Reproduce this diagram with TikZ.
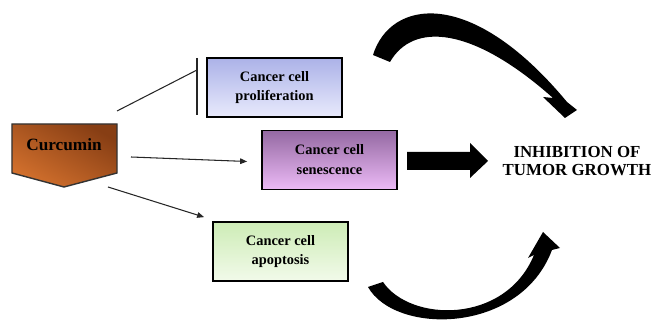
\documentclass[tikz,border=0pt]{standalone}
\usepackage{fontspec}
\setmainfont{Liberation Serif}
\usepackage{tikz}
\usetikzlibrary{arrows.meta,backgrounds}
\newcommand{\boxw}{2.7cm}
\newcommand{\boxh}{1.18cm}
\newcommand{\thin}{0.6pt}
\definecolor{curtop}{RGB}{135,62,20}
\definecolor{curbot}{RGB}{210,112,45}
\definecolor{protop}{RGB}{172,178,232}
\definecolor{probot}{RGB}{232,234,252}
\definecolor{sentop}{RGB}{148,105,162}
\definecolor{senbot}{RGB}{236,186,246}
\definecolor{apotop}{RGB}{205,236,182}
\definecolor{apobot}{RGB}{242,250,234}
\tikzset{
  cellbox/.style={draw=black, line width=1pt, minimum width=\boxw, minimum height=\boxh,
    align=center, font=\bfseries\fontsize{8.2}{11.3}\selectfont},
  link/.style={draw=black!85, line width=\thin},
  tip/.style={-{Triangle[length=4pt,width=3.2pt]}}
}

\begin{document}
\begin{tikzpicture}[x=0.02cm,y=-0.02cm]
\useasboundingbox (0,0) rectangle (654,327);
%curcumin
\shade[top color=curtop, bottom color=curbot, shading angle=-30, draw=black!80, line width=0.8pt]
  (12,124) -- (117,124) -- (117,173) -- (64,187) -- (12,173) -- cycle;
\node[font=\bfseries\fontsize{9.8}{12}\selectfont] (cur) at (64,145) {Curcumin};
\coordinate (c1) at (117,111);
\coordinate (c2) at (131,157);
\coordinate (c3) at (108,187);
%boxes
\node[cellbox, top color=protop, bottom color=probot] (pro) at (274.5,87.5) {Cancer cell\\proliferation};
\node[cellbox, top color=sentop, bottom color=senbot] (sen) at (329.5,160) {Cancer cell\\senescence};
\node[cellbox, top color=apotop, bottom color=apobot] (apo) at (280.5,251.5) {Cancer cell\\apoptosis};
\node[align=center, font=\bfseries\fontsize{9.6}{10.4}\selectfont] (inh) at (577,161) {INHIBITION OF\\TUMOR GROWTH};
%connectors
\coordinate (b1) at (197,58);
\coordinate (b2) at (197,115);
\draw[link, line width=0.9pt] (b1) -- (b2);
\draw[link] (c1) -- (197,70);
\draw[link, tip] (c2) -- ([xshift=-0.28cm,yshift=-0.03cm]sen.west);
\draw[link, tip] (c3) -- ([xshift=-0.16cm,yshift=0.08cm]apo.north west);
%block arrow
\fill (407,152) -- (470,152) -- (470,143) -- (488,161) -- (470,178) -- (470,170) -- (407,170) -- cycle;
%curved arrows
\fill (373,55) .. controls (390,0) and (470,-15) .. (567,102) -- (577,110) -- (565,118) -- (543,97) -- (553,98)
  .. controls (472,26) and (413,22) .. (390,62) -- cycle;
\fill (368,287) .. controls (395,335) and (520,335) .. (552,250) -- (560,248) -- (543,232) -- (528,258) -- (534,255)
  .. controls (505,325) and (410,322) .. (383,282) -- cycle;
\end{tikzpicture}
\end{document}
